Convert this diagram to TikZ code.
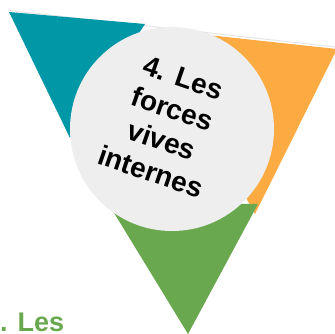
\documentclass[tikz,border=0pt]{standalone}
\usepackage{fontspec}
\setmainfont{Liberation Sans}
\usetikzlibrary{positioning}
\definecolor{tealpart}{RGB}{0,151,167}
\definecolor{orangepart}{RGB}{252,171,67}
\definecolor{greenpart}{RGB}{106,168,79}
\definecolor{discgray}{RGB}{238,238,238}

\begin{document}
\begin{tikzpicture}[x=1pt,y=-1pt]
	\useasboundingbox (0,0) rectangle (334,334);
	% thin shadow on the top edge
	\draw[gray!20,line width=1pt] (9,10.5) -- (340,47.5);
	\fill[orangepart] (152,29) -- (337,49) -- (255,214) -- cycle;
	\fill[tealpart] (9,12) -- (145,24) -- (70,138) -- cycle;
	\fill[greenpart] (108,203) -- (258,204) -- (188,334) -- cycle;
	\node[circle,fill=discgray,minimum size=204pt,inner sep=0pt] (disc) at (172,129) {};
	\node[rotate=-19,align=center,font=\bfseries\fontsize{28}{33}\selectfont] (title) at (167,125) {4. Les\\forces\\vives\\internes};
	\node[anchor=base west,inner sep=0pt,text=greenpart,font=\bfseries\fontsize{27}{31}\selectfont] (lower) at (-15,331) {4. Les};
\end{tikzpicture}
\end{document}
